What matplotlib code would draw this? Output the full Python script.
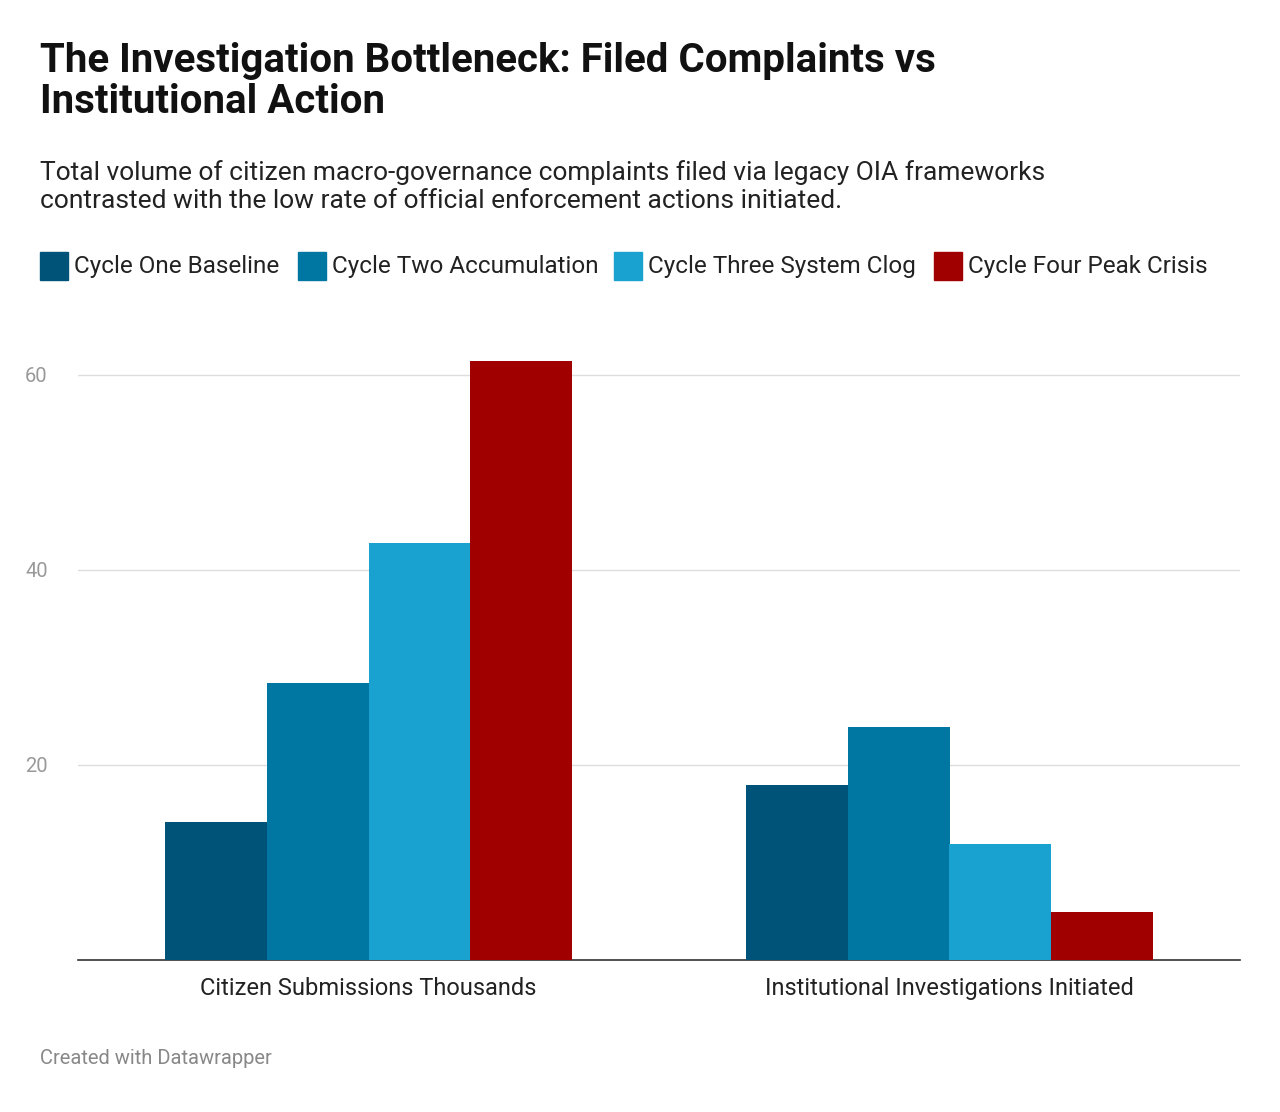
import matplotlib
matplotlib.use("Agg")
import matplotlib.pyplot as plt
import numpy as np

categories = ["Citizen Submissions Thousands", "Institutional Investigations Initiated"]
series = ["Cycle One Baseline", "Cycle Two Accumulation", "Cycle Three System Clog", "Cycle Four Peak Crisis"]
values = {
    "Cycle One Baseline": [14.2, 17.9],
    "Cycle Two Accumulation": [28.4, 23.9],
    "Cycle Three System Clog": [42.8, 11.9],
    "Cycle Four Peak Crisis": [61.4, 4.9],
}
colors = ["#005378", "#0077a2", "#19a2cf", "#a00000"]
yticks = [20, 40, 60]

plt.rcParams['font.family'] = ['Roboto', 'DejaVu Sans']
fig = plt.figure(figsize=(12.8, 11.12), dpi=100)
W, H = 1280, 1112
ax = fig.add_axes([78/W, (H-960)/H, (1240-78)/W, (960-350.6)/H])
x = np.arange(len(categories))
w = 0.175
for i, s in enumerate(series):
    ax.bar(x + (i-1.5)*w, values[s], w, color=colors[i], zorder=3)
ax.set_xlim(-0.5, 1.5)
ax.set_ylim(0, 62.5)
ax.set_yticks(yticks)
ax.set_yticklabels([str(t) for t in yticks], color="#999999", fontsize=14.5)
ax.tick_params(axis='y', length=0, pad=10)
ax.yaxis.set_tick_params(labelleft=True)
for lbl in ax.get_yticklabels():
    lbl.set_horizontalalignment('left')
ax.tick_params(axis='y', pad=38)
ax.grid(axis='y', color="#dddddd", linewidth=1, zorder=0)
ax.set_xticks(x)
ax.set_xticklabels(categories, fontsize=17, color="#222222")
ax.tick_params(axis='x', length=0, pad=12)
for sp in ["top", "right", "left"]:
    ax.spines[sp].set_visible(False)
ax.spines["bottom"].set_color("#333333")
ax.spines["bottom"].set_linewidth(1.2)

fig.text(40/W, 1-42/H, "The Investigation Bottleneck: Filed Complaints vs\nInstitutional Action",
         fontsize=29, fontweight="bold", va="top", ha="left", linespacing=1.1, color="#111111")
fig.text(40/W, 1-160/H, "Total volume of citizen macro-governance complaints filed via legacy OIA frameworks\ncontrasted with the low rate of official enforcement actions initiated.",
         fontsize=19, va="top", ha="left", linespacing=1.2, color="#222222")
# legend
lx = [40, 298, 614, 934]
for xx, s, c in zip(lx, series, colors):
    fig.patches.append(plt.Rectangle((xx/W, 1-280/H), 28/W, 28/H, transform=fig.transFigure, color=c))
    fig.text((xx+34)/W, 1-266/H, s, fontsize=17.5, va="center", ha="left", color="#222222")
fig.text(40/W, 1-1058/H, "Created with Datawrapper", fontsize=14.5, color="#888888", va="center", ha="left")
fig.savefig("out.png", dpi=100, facecolor="white")
